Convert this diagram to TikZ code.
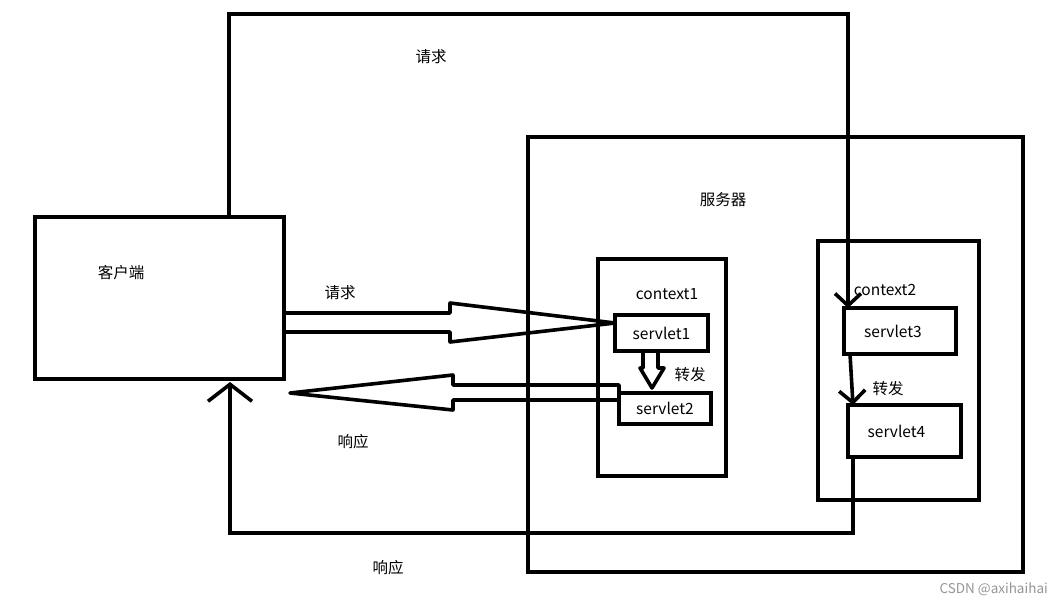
\documentclass[tikz,border=0pt]{standalone}
\usepackage{fontspec}
\usepackage{tikz}
\usetikzlibrary{arrows.meta,calc}
\newfontfamily\cjk{Noto Sans CJK SC}
\definecolor{markcol}{RGB}{150,150,150}

\begin{document}
\begin{tikzpicture}[x=1pt,y=-1pt,
  box/.style ={rectangle,draw,line width=3.6pt,inner sep=0pt,outer sep=0pt},
  sbox/.style={box,font=\cjk\fontsize{15.5}{18}\selectfont},
  lbl/.style ={font=\cjk\fontsize{15.5}{18}\selectfont,inner sep=0pt},
  conn/.style={line width=3.6pt},
  hollow/.style={line width=3.6pt,line join=round},
  barb/.style={-{Straight Barb[length=12pt,width=26pt]}},
  bigbarb/.style={-{Straight Barb[length=17pt,width=44pt]}}
]
\fill[white] (0,0) rectangle (1062,605);
\useasboundingbox (0,0) rectangle (1062,605);

% boxes
\node[box,minimum width=249pt,minimum height=162pt] (client) at (159.5,298) {};
\node[box,minimum width=495pt,minimum height=435pt] (server) at (775.5,354.5) {};
\node[box,minimum width=128pt,minimum height=217pt] (ctx1) at (662,367.5) {};
\node[box,minimum width=161pt,minimum height=259pt] (ctx2) at (898.5,370.5) {};

\node[sbox,minimum width=93pt, minimum height=36pt] (s1) at (661.5,333) {servlet1};
\node[sbox,minimum width=92pt, minimum height=31pt] (s2) at (665,408.5) {servlet2};
\node[sbox,minimum width=112pt,minimum height=46pt] (s3) at (900,331) {\hspace*{-14pt}\raisebox{-5pt}{servlet3}};
\node[sbox,minimum width=113pt,minimum height=52pt] (s4) at (904.5,431) {\hspace*{-16pt}\raisebox{-5pt}{servlet4}};

\coordinate (topturn)  at (848,14);
\coordinate (respturn) at (230,533);

% request over the top, forward and response
\draw[conn,barb] ([xshift=194pt]client.north west) |- (topturn) -- ([xshift=4pt]s3.north west);
\draw[conn,barb] ([xshift=6pt]s3.south west) -- ([xshift=5pt]s4.north west);
\draw[conn,bigbarb] ([xshift=5pt]s4.south west) |- (respturn) -- ([xshift=195pt,yshift=-3pt]client.south west);

% hollow arrows
\draw[hollow] ([yshift=-15pt]client.east) -- ++(166,0) -- ++(0,-10)
  -- ([yshift=10pt]s1.west) -- ++(-165,19) -- ++(0,-10) -- ++(-166,0);
\draw[hollow] (s2.north west) -- ++(0,-8) -- ++(-166,0) -- ++(0,-10)
  -- ++(-163,18) -- ++(163,17) -- ++(0,-10) -- ([yshift=8.5pt]s2.west);
\draw[hollow] ([xshift=-18.5pt]s1.south) -- ++(0,17) -- ++(-3,0) -- ++(12,20)
  -- ++(12,-20) -- ++(-6,0) -- ++(0,-17);

% labels
\node[lbl] (lclient) at (121,273) {客户端};
\node[lbl] (lserver) at (723,200) {服务器};
\node[lbl] (lctx1)   at (667,294) {context1};
\node[lbl] (lctx2)   at (885,290) {context2};
\node[lbl] (lreq1)   at (431,57)  {请求};
\node[lbl] (lreq2)   at (340,293) {请求};
\node[lbl] (lresp1)  at (353,442) {响应};
\node[lbl] (lresp2)  at (388,568) {响应};
\node[lbl] (lfwd1)   at (690,375) {转发};
\node[lbl] (lfwd2)   at (888,389) {转发};

\node[lbl,font=\cjk\fontsize{13.5}{16}\selectfont,text=markcol,anchor=east] (mark) at (1048,589) {CSDN @axihaihai};
\end{tikzpicture}
\end{document}
